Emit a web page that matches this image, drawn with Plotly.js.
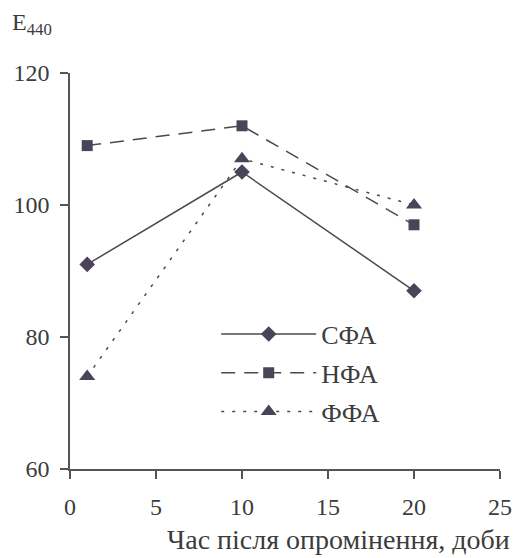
<!DOCTYPE html>
<html><head><meta charset="utf-8">
<script src="https://cdn.plot.ly/plotly-3.0.1.min.js"></script>
</head><body style="margin:0">
<div id="chart"></div>
<script>
const days = [1, 10, 20];
const sfa = [91, 105, 87];
const nfa = [109, 112, 97];
const ffa = [74, 107, 100];
const seriesNames = ['СФА', 'НФА', 'ФФА'];
const xTicks = [0, 5, 10, 15, 20, 25];
const yTicks = [60, 80, 100, 120];

const lineCol = '#4a4a4a';
const markCol = '#4b4458';
const fam = 'Liberation Serif';
const txtCol = '#3c3c3c';

const traces = [
  {x: days, y: sfa, name: seriesNames[0], legendgroup: 'a', mode: 'lines+markers',
   line: {color: lineCol, width: 1.5, dash: 'solid'},
   marker: {symbol: 'diamond', size: 12, color: markCol}},
  {x: days, y: nfa, name: seriesNames[1], legendgroup: 'b', mode: 'lines+markers',
   line: {color: lineCol, width: 1.5, dash: '14px,9px'},
   marker: {symbol: 'square', size: 11, color: markCol}},
  {x: days, y: ffa, name: seriesNames[2], legendgroup: 'c', mode: 'lines+markers',
   line: {color: lineCol, width: 1.5, dash: '3px,8px'},
   marker: {symbol: 'triangle-up', size: 14, color: markCol}}
];

const layout = {
  width: 515, height: 558,
  margin: {l: 70, r: 15, t: 73, b: 89},
  paper_bgcolor: '#fff', plot_bgcolor: '#fff',
  font: {family: fam, size: 24, color: txtCol},
  showlegend: true,
  legend: {x: 0.34, y: 0.4, xanchor: 'left', yanchor: 'top',
           bgcolor: 'rgba(0,0,0,0)', itemwidth: 95, tracegroupgap: 2,
           traceorder: 'grouped',
           font: {family: fam, size: 26, color: txtCol}},
  xaxis: {range: [0, 25], tickvals: xTicks, showgrid: false, zeroline: false,
          showline: true, linecolor: '#555', linewidth: 1.5,
          ticks: 'outside', ticklen: 8, tickcolor: '#555', tickwidth: 1.5,
          ticklabelstandoff: 7,
          tickfont: {family: fam, size: 24, color: txtCol}},
  yaxis: {range: [60, 120], tickvals: yTicks, showgrid: false, zeroline: false,
          showline: true, linecolor: '#555', linewidth: 1.5,
          ticks: 'outside', ticklen: 8, tickcolor: '#555', tickwidth: 1.5,
          ticklabelstandoff: 6,
          tickfont: {family: fam, size: 24, color: txtCol}},
  annotations: [
    {text: 'E<sub>440</sub>', xref: 'paper', yref: 'paper', x: -0.14, y: 1.08,
     xanchor: 'left', yanchor: 'bottom', showarrow: false,
     font: {family: fam, size: 24, color: txtCol}},
    {text: 'Час після опромінення, доби', xref: 'paper', yref: 'paper', x: 0.625, y: -0.135,
     xanchor: 'center', yanchor: 'top', showarrow: false,
     font: {family: fam, size: 28, color: txtCol}}
  ]
};

Plotly.newPlot('chart', traces, layout, {displayModeBar: false});
</script>
</body></html>
